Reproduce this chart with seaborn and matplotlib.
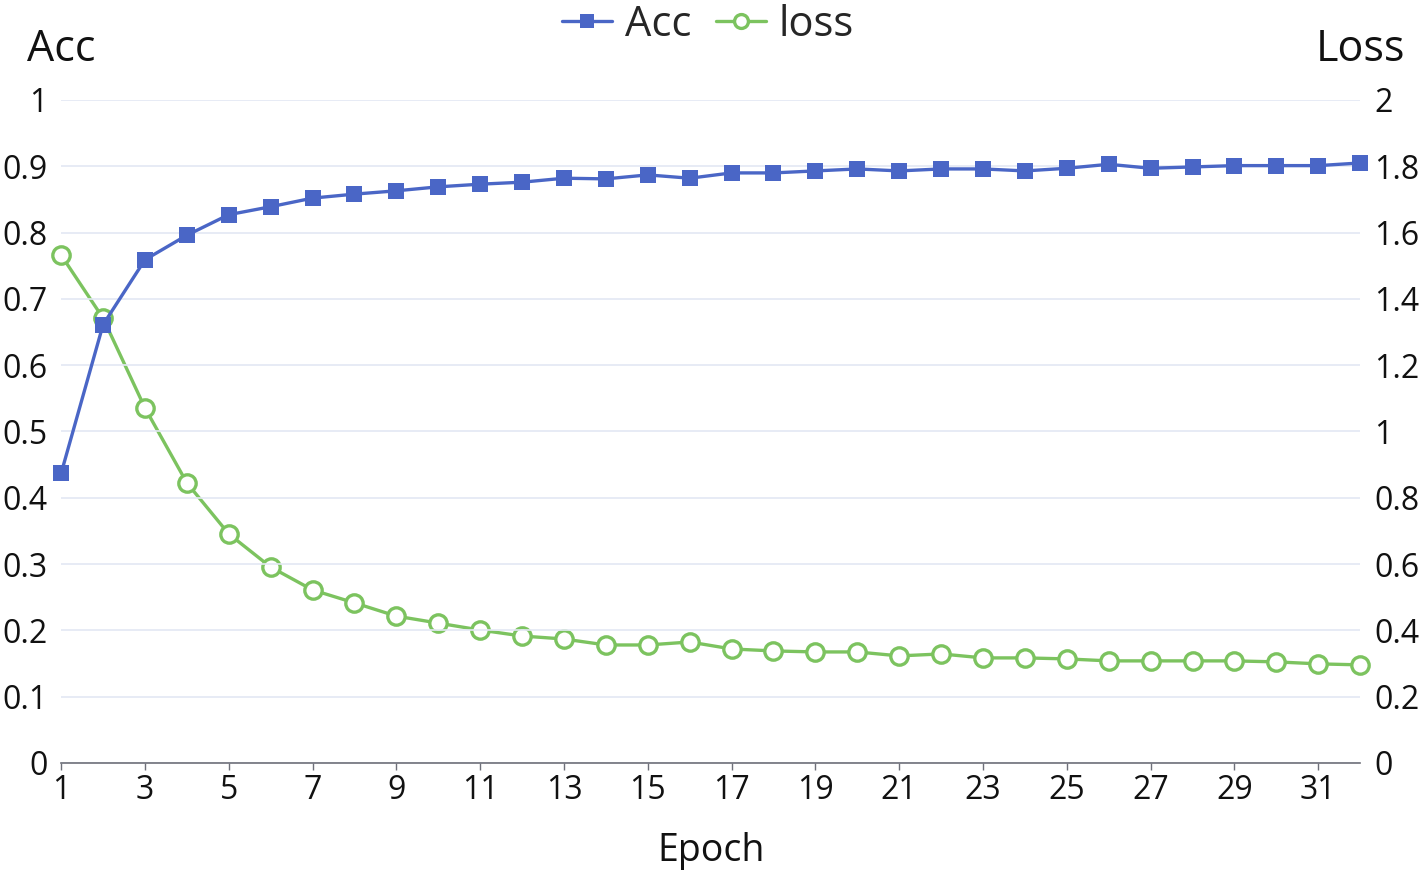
import numpy as np
import pandas as pd
import matplotlib
matplotlib.use("Agg")
import matplotlib.pyplot as plt
import seaborn as sns

# data
epochs = list(range(1, 33))
acc = [0.437, 0.661, 0.759, 0.796, 0.827, 0.839, 0.852, 0.858, 0.863, 0.869,
       0.873, 0.876, 0.882, 0.881, 0.887, 0.882, 0.890, 0.890, 0.893, 0.896,
       0.893, 0.896, 0.896, 0.893, 0.897, 0.903, 0.897, 0.899, 0.901, 0.901,
       0.901, 0.905]
loss = [1.532, 1.342, 1.071, 0.845, 0.691, 0.591, 0.522, 0.483, 0.443, 0.422,
        0.401, 0.383, 0.374, 0.356, 0.356, 0.365, 0.344, 0.338, 0.335, 0.335,
        0.323, 0.329, 0.317, 0.317, 0.314, 0.308, 0.308, 0.308, 0.308, 0.305,
        0.299, 0.296]
acc_ticks = [0, 0.1, 0.2, 0.3, 0.4, 0.5, 0.6, 0.7, 0.8, 0.9, 1]
loss_ticks = [0, 0.2, 0.4, 0.6, 0.8, 1, 1.2, 1.4, 1.6, 1.8, 2]
x_ticks = list(range(1, 32, 2))

df = pd.DataFrame({"Epoch": epochs, "Acc": acc, "loss": loss})

sns.set_theme(style="white")
plt.rcParams['font.family'] = ['Open Sans', 'DejaVu Sans']

blue = "#4a66c6"
green = "#7cc35f"
grid_c = "#e3e8f3"

fig, ax = plt.subplots(figsize=(14.22, 8.77), dpi=100)
fig.subplots_adjust(left=0.043, right=0.9565, top=0.886, bottom=0.130)
ax2 = ax.twinx()
# acc line drawn above the loss line
ax.set_zorder(ax2.get_zorder() + 1)
ax.patch.set_visible(False)

sns.lineplot(data=df, x="Epoch", y="Acc", ax=ax, color=blue, lw=2.4,
             marker="s", markersize=12, markeredgewidth=0, label="Acc",
             legend=False, zorder=4, clip_on=False)
sns.lineplot(data=df, x="Epoch", y="loss", ax=ax2, color=green, lw=2.4,
             marker="o", markersize=12.5, markerfacecolor="white",
             markeredgecolor=green, markeredgewidth=2.4, label="loss",
             legend=False, zorder=4, clip_on=False)

ax.set_xlim(1, 32)
ax.set_ylim(0, 1)
ax2.set_ylim(0, 2)
ax.set_yticks(acc_ticks)
ax.set_yticklabels([f"{t:g}" for t in acc_ticks])
ax2.set_yticks(loss_ticks)
ax2.set_yticklabels([f"{t:g}" for t in loss_ticks])
ax.set_xticks(x_ticks)
ax.set_xticklabels([str(t) for t in x_ticks])

ax.yaxis.grid(True, color=grid_c, lw=1.2)
ax.set_axisbelow(True)
for a in (ax, ax2):
    for s in ("top", "right", "left"):
        a.spines[s].set_visible(False)
ax2.spines["bottom"].set_visible(False)
ax.spines["bottom"].set_color("#6e7079")
ax.spines["bottom"].set_linewidth(1.2)

ax.tick_params(axis="y", length=0, pad=10, labelsize=23, labelcolor="#111111")
ax2.tick_params(axis="y", length=0, pad=10, labelsize=23, labelcolor="#111111")
ax.tick_params(axis="x", length=5, width=1, color="#6e7079", pad=3,
               labelsize=23, labelcolor="#111111", bottom=True)

ax.set_xlabel("Epoch", fontsize=27, color="#111111", labelpad=18)
ax.set_ylabel("")
ax2.set_ylabel("")

fig.text(61 / 1422, 1 - 50 / 877, "Acc", ha="center", va="center",
         fontsize=31, color="#111111")
fig.text(1360 / 1422, 1 - 50 / 877, "Loss", ha="center", va="center",
         fontsize=31, color="#111111")

h1, l1 = ax.get_legend_handles_labels()
h2, l2 = ax2.get_legend_handles_labels()
fig.legend(h1 + h2, l1 + l2, loc="center", bbox_to_anchor=(708 / 1422, 1 - 25 / 877),
           ncol=2, frameon=False, fontsize=30, handlelength=1.2,
           handletextpad=0.3, columnspacing=0.6, markerscale=0.8)

fig.savefig("out.png", dpi=100)
